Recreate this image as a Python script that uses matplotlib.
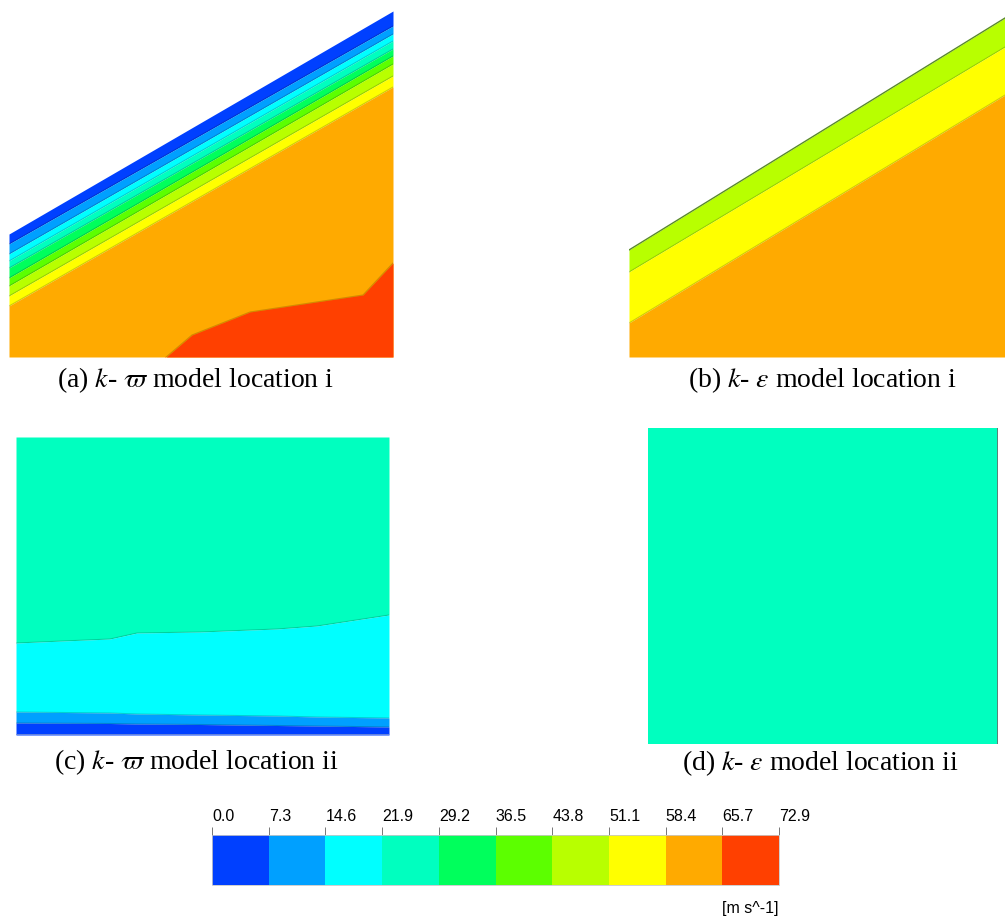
import matplotlib
matplotlib.use("Agg")
from matplotlib import pyplot as plt
from matplotlib.colors import ListedColormap, BoundaryNorm
import matplotlib.cm as cm
import numpy as np

plt.rcParams['font.family'] = ['Liberation Serif', 'DejaVu Serif']
plt.rcParams['mathtext.fontset'] = 'stix'

# velocity levels [m s^-1] and the band colours of the legend
levels = [0.0, 7.3, 14.6, 21.9, 29.2, 36.5, 43.8, 51.1, 58.4, 65.7, 72.9]
tick_labels = ["0.0", "7.3", "14.6", "21.9", "29.2", "36.5", "43.8", "51.1", "58.4", "65.7", "72.9"]
band_colors = ['#0040FF', '#00A0FF', '#00FFFF', '#00FFBF', '#00FF5C',
               '#5CFF00', '#B8FF00', '#FFFF00', '#FFAA00', '#FF4000']

captions = [r"(a) $k$- $\varpi$ model location i",
            r"(b) $k$- $\varepsilon$ model location i",
            r"(c) $k$- $\varpi$ model location ii",
            r"(d) $k$- $\varepsilon$ model location ii"]

# (a) k-omega, location i: wall line and band edges below the wall (depth units)
a_x = [0, 384]
a_wall = [224, 1]
a_edges_left = [0, 10, 20, 27, 34, 44, 52, 62, 72]      # depth of each band edge, left side
a_edges_right = [0, 15, 23, 30, 38, 45, 53, 65, 76]     # same, right side
a_band_idx = [0, 1, 2, 3, 4, 5, 6, 7]
a_red_x = [156, 183, 241, 354, 384]
a_red_y = [348, 325, 302, 285, 253]

# (b) k-epsilon, location i
b_x = [0, 376]
b_wall = [240, 8]
b_edges_left = [0, 22, 73]
b_edges_right = [0, 29, 77]
b_band_idx = [6, 7]

# (c) k-omega, location ii: edges from top to bottom
c_x = [0, 94, 121, 184, 261, 301, 373]
c_aqua_cyan = [206, 202, 196, 195, 192, 189, 178]
c_cyan_blue = [275, 276, 277, 278, 279, 280, 281]
c_blue_dark = [286, 286.5, 287, 287.5, 288.5, 289, 290]

W, H = 1005, 918
fig = plt.figure(figsize=(W / 100, H / 100), dpi=100)


def add_ax(l, t, r, b):
    ax = fig.add_axes([l / W, 1 - b / H, (r - l) / W, (b - t) / H])
    ax.set_xlim(0, r - l)
    ax.set_ylim(b - t, 0)
    ax.set_axis_off()
    return ax


def line_edge(ax, x, y):
    ax.plot(x, y, color='k', alpha=0.18, lw=0.8)


# panel (a)
ax = add_ax(9, 10, 393, 357)
bottom = 347
top = np.array(a_wall, float)
for i, idx in enumerate(a_band_idx):
    y1 = top + np.array([a_edges_left[i], a_edges_right[i]])
    y2 = top + np.array([a_edges_left[i + 1], a_edges_right[i + 1]])
    ax.fill_between(a_x, y1, y2, color=band_colors[idx], lw=0)
    line_edge(ax, a_x, y2)
y_last = top + np.array([a_edges_left[-1], a_edges_right[-1]])
ax.fill_between(a_x, y_last, bottom, color=band_colors[8], lw=0)
ax.fill_between(a_red_x, a_red_y, bottom, color=band_colors[9], lw=0)
line_edge(ax, a_red_x, a_red_y)

# panel (b)
ax = add_ax(629, 10, 1005, 357)
top = np.array(b_wall, float)
for i, idx in enumerate(b_band_idx):
    y1 = top + np.array([b_edges_left[i], b_edges_right[i]])
    y2 = top + np.array([b_edges_left[i + 1], b_edges_right[i + 1]])
    ax.fill_between(b_x, y1, y2, color=band_colors[idx], lw=0)
    line_edge(ax, b_x, y2)
y_last = top + np.array([b_edges_left[-1], b_edges_right[-1]])
ax.fill_between(b_x, y_last, bottom, color=band_colors[8], lw=0)
ax.plot(b_x, top, color='#5a8a2a', lw=1.0)

# panel (c)
ax = add_ax(16, 437, 389, 735)
c_bottom = 298
ax.fill_between(c_x, 0, c_aqua_cyan, color=band_colors[3], lw=0)
ax.fill_between(c_x, c_aqua_cyan, c_cyan_blue, color=band_colors[2], lw=0)
ax.fill_between(c_x, c_cyan_blue, c_blue_dark, color=band_colors[1], lw=0)
ax.fill_between(c_x, c_blue_dark, c_bottom, color=band_colors[0], lw=0)
for yy in (c_aqua_cyan, c_cyan_blue, c_blue_dark):
    line_edge(ax, c_x, yy)
ax.plot([0, 373], [c_bottom - 0.5, c_bottom - 0.5], color='#7890d8', lw=1.2)

# panel (d)
ax = add_ax(648, 428, 998, 744)
ax.fill_between([0, 350], 0, 316, color=band_colors[3], lw=0)
ax.plot([349.5, 349.5], [0, 316], color='#6a6a6a', lw=1.2)

# captions
cap_pos = [(196, 380), (822, 380), (196, 762), (820, 763)]
for (cx, cy), txt in zip(cap_pos, captions):
    fig.text(cx / W, 1 - cy / H, txt, ha='center', va='center', fontsize=20)

# legend colour bar
cax = fig.add_axes([212 / W, 1 - 885 / H, (779 - 212) / W, 50 / H])
cmap = ListedColormap(band_colors)
norm = BoundaryNorm(levels, cmap.N)
cb = fig.colorbar(cm.ScalarMappable(norm=norm, cmap=cmap), cax=cax,
                  orientation='horizontal', ticks=levels)
cb.outline.set_edgecolor('#c8c8c8')
cb.outline.set_linewidth(0.6)
cax.xaxis.set_ticks_position('top')
cax.set_xticklabels(tick_labels, family=['Liberation Sans'], fontsize=11.5)
cax.tick_params(axis='x', length=6, width=0.6, color='#606060', pad=2)
for lbl in cax.get_xticklabels():
    lbl.set_horizontalalignment('left')
fig.text(778 / W, 1 - 908 / H, "[m s^-1]", ha='right', va='center',
         family=['Liberation Sans'], fontsize=11.5)

fig.savefig("out.png", dpi=100)
